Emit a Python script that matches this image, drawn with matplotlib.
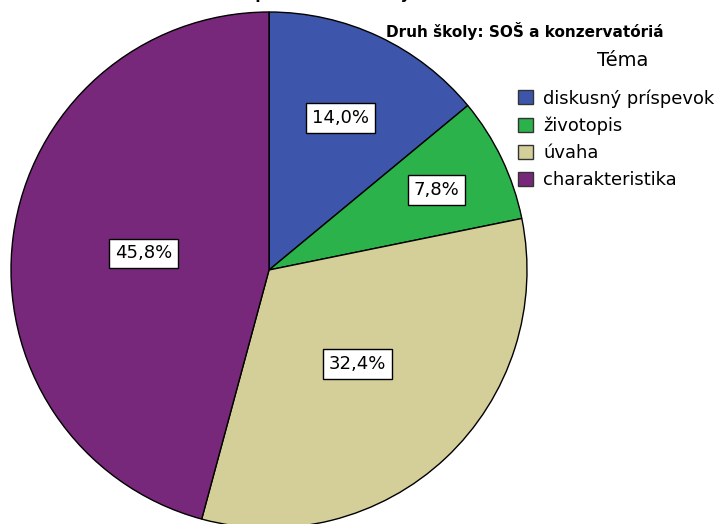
import matplotlib.pyplot as plt
import numpy as np
from matplotlib.patches import Patch

# data
temy = ['diskusný príspevok', 'životopis', 'úvaha', 'charakteristika']
podiely = [14.0, 7.8, 32.4, 45.8]
farby = ['#3D56AB', '#2CB24B', '#D4CF98', '#78287A']
popis_vzd = [0.65, 0.72, 0.50, 0.49]

fig = plt.figure(figsize=(7.24, 5.24), dpi=100)
R = 1.0
lim = 1.01
# pie box in pixels: centre (269,270), radius 258
px_r = 258 * lim
ax = fig.add_axes([(269 - px_r) / 724, (524 - 270 - px_r) / 524, 2 * px_r / 724, 2 * px_r / 524])

wedges, _ = ax.pie(podiely, colors=farby, startangle=90, counterclock=False,
                   radius=R, wedgeprops=dict(edgecolor='black', linewidth=1.0))
ax.set_xlim(-lim, lim)
ax.set_ylim(-lim, lim)
ax.set_aspect('auto')

for w, p, d in zip(wedges, podiely, popis_vzd):
    mid = np.deg2rad((w.theta1 + w.theta2) / 2)
    ax.text(d * np.cos(mid), d * np.sin(mid), f'{p:.1f}%'.replace('.', ','),
            ha='center', va='center', fontsize=13,
            bbox=dict(boxstyle='square,pad=0.32', facecolor='white', edgecolor='black', linewidth=1))

# titles (first one cut off at top like in the original)
fig.text(0.43, 1.012, 'PFIS podľa druhu školy', ha='center', va='center',
         fontsize=11, fontweight='bold')
fig.text(664 / 724, 1 - 31 / 524, 'Druh školy: SOŠ a konzervatóriá', ha='right', va='center',
         fontsize=11, fontweight='bold')

# legend
fig.text(623 / 724, 1 - 61 / 524, 'Téma', ha='center', va='center', fontsize=14)
handles = [Patch(facecolor=c, edgecolor='#333333', linewidth=1) for c in farby]
leg = fig.legend(handles, temy, loc='upper left',
                 bbox_to_anchor=(518 / 724, 1 - 89 / 524), frameon=False,
                 fontsize=12.9, handlelength=0.85, handleheight=0.85,
                 handletextpad=0.55, labelspacing=0.5, borderpad=0, borderaxespad=0)

fig.savefig('out.png', dpi=100)
